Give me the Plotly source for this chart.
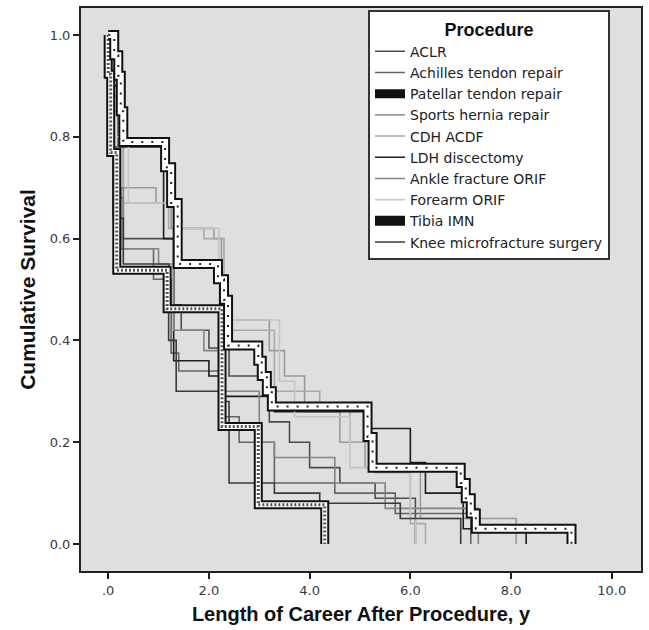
import plotly.graph_objects as go

# ---------------- data (Kaplan-Meier step points: time, survival after event) ----------------
procedures = ["ACLR", "Achilles tendon repair", "Patellar tendon repair", "Sports hernia repair",
              "CDH ACDF", "LDH discectomy", "Ankle fracture ORIF", "Forearm ORIF", "Tibia IMN",
              "Knee microfracture surgery"]

aclr_t = [0, 0.05, 0.12, 0.2, 0.3, 1.3, 1.45, 2.0, 2.4, 3.2, 3.6, 4.0, 4.6, 5.3, 6.1]
aclr_s = [1.0, 0.9, 0.78, 0.68, 0.6, 0.47, 0.42, 0.385, 0.33, 0.24, 0.20, 0.15, 0.12, 0.09, 0.0]

achilles_t = [0, 0.03, 0.1, 0.25, 0.9, 1.25, 1.4, 2.3, 2.6, 3.3, 4.5, 5.7, 7.2]
achilles_s = [1.0, 0.85, 0.7, 0.58, 0.52, 0.375, 0.34, 0.25, 0.2, 0.12, 0.10, 0.06, 0.0]

patellar_t = [0, 0.0, 0.05, 0.17, 1.17, 2.26, 2.98, 4.3]
patellar_s = [1.0, 0.923, 0.769, 0.538, 0.462, 0.231, 0.077, 0.0]

hernia_t = [0, 0.05, 0.2, 0.3, 0.95, 1.25, 2.1, 2.25, 3.2, 3.5, 3.9, 4.6, 5.1, 6.2, 8.1]
hernia_s = [1.0, 0.9, 0.8, 0.70, 0.67, 0.62, 0.60, 0.44, 0.38, 0.33, 0.26, 0.2, 0.15, 0.05, 0.0]

cdh_t = [0, 0.1, 0.3, 1.2, 1.9, 2.3, 3.3, 4.2, 4.8, 5.3, 6.0, 6.3]
cdh_s = [1.0, 0.88, 0.67, 0.62, 0.60, 0.42, 0.30, 0.27, 0.2, 0.14, 0.04, 0.0]

ldh_t = [0, 0.02, 0.2, 1.1, 1.3, 2.0, 2.3, 3.3, 5.2, 6.0, 6.3, 7.05, 8.3]
ldh_s = [1.0, 0.9, 0.78, 0.60, 0.36, 0.33, 0.29, 0.26, 0.227, 0.16, 0.10, 0.03, 0.0]

ankle_t = [0, 0.05, 0.2, 0.3, 1.0, 1.3, 1.9, 2.3, 3.0, 3.3, 4.5, 5.5, 7.35]
ankle_s = [1.0, 0.85, 0.70, 0.58, 0.55, 0.42, 0.38, 0.30, 0.20, 0.17, 0.12, 0.07, 0.0]

forearm_t = [0, 0.1, 0.4, 1.3, 2.2, 3.4, 3.7, 4.8, 6.0, 6.1]
forearm_s = [1.0, 0.8, 0.67, 0.62, 0.44, 0.32, 0.25, 0.15, 0.05, 0.0]

tibia_t = [0, 0.12, 0.2, 0.25, 0.3, 1.13, 1.25, 1.38, 2.18, 2.3, 2.38, 2.98, 3.05, 3.15, 3.25,
           5.15, 5.25, 7.0, 7.1, 7.2, 7.3, 9.2]
tibia_s = [1.0, 0.96, 0.92, 0.85, 0.79, 0.74, 0.67, 0.55, 0.52, 0.48, 0.39, 0.36, 0.33, 0.30, 0.27,
           0.21, 0.15, 0.12, 0.09, 0.06, 0.03, 0.0]

knee_t = [0, 0.02, 0.1, 0.3, 1.2, 1.35, 2.2, 2.4, 3.3, 4.2, 5.8, 7.0]
knee_s = [1.0, 0.8, 0.64, 0.55, 0.40, 0.30, 0.28, 0.12, 0.10, 0.08, 0.05, 0.0]

x_tickvals = [0, 2, 4, 6, 8, 10]
x_ticktext = [".0", "2.0", "4.0", "6.0", "8.0", "10.0"]
y_tickvals = [0, 0.2, 0.4, 0.6, 0.8, 1.0]
y_ticktext = ["0.0", "0.2", "0.4", "0.6", "0.8", "1.0"]

thin = [
    ("ACLR", aclr_t, aclr_s, "#4d4d4d", 1),
    ("Achilles tendon repair", achilles_t, achilles_s, "#656565", 2),
    ("Sports hernia repair", hernia_t, hernia_s, "#9a9a9a", 4),
    ("CDH ACDF", cdh_t, cdh_s, "#a9a9a9", 5),
    ("LDH discectomy", ldh_t, ldh_s, "#1e1e1e", 6),
    ("Ankle fracture ORIF", ankle_t, ankle_s, "#858585", 7),
    ("Forearm ORIF", forearm_t, forearm_s, "#c6c6c6", 8),
    ("Knee microfracture surgery", knee_t, knee_s, "#3a3a3a", 10),
]

fig = go.Figure()
for name, t, s, col, rank in thin:
    fig.add_trace(go.Scatter(x=t, y=s, mode="lines", line=dict(color=col, width=1.6, shape="hv"),
                             name=name, legendrank=rank, hoverinfo="skip"))

# Patellar tendon repair: thick black outline with hatched fill
fig.add_trace(go.Scatter(x=patellar_t, y=patellar_s, mode="lines",
                         line=dict(color="#111111", width=9, shape="hv"),
                         name="Patellar tendon repair", legendrank=3, legendgroup="pat", hoverinfo="skip"))
fig.add_trace(go.Scatter(x=patellar_t, y=patellar_s, mode="lines",
                         line=dict(color="#ffffff", width=5, shape="hv"),
                         showlegend=False, legendgroup="pat", hoverinfo="skip"))
fig.add_trace(go.Scatter(x=patellar_t, y=patellar_s, mode="lines",
                         line=dict(color="#555555", width=3, shape="hv", dash="2px,2px"),
                         showlegend=False, legendgroup="pat", hoverinfo="skip"))

# Tibia IMN: thick white band with black border and dots
fig.add_trace(go.Scatter(x=tibia_t, y=tibia_s, mode="lines",
                         line=dict(color="#111111", width=10, shape="hv"),
                         name="Tibia IMN", legendrank=9, legendgroup="tib", hoverinfo="skip"))
fig.add_trace(go.Scatter(x=tibia_t, y=tibia_s, mode="lines",
                         line=dict(color="#ffffff", width=6, shape="hv"),
                         showlegend=False, legendgroup="tib", hoverinfo="skip"))
fig.add_trace(go.Scatter(x=tibia_t, y=tibia_s, mode="lines",
                         line=dict(color="#222222", width=2, shape="hv", dash="2px,8px"),
                         showlegend=False, legendgroup="tib", hoverinfo="skip"))

fig.update_layout(
    width=649, height=630,
    margin=dict(l=81, r=8, t=6, b=59),
    paper_bgcolor="#ffffff",
    plot_bgcolor="#dfdfdf",
    showlegend=True,
    legend=dict(
        x=0.5125, y=0.996, xanchor="left", yanchor="top",
        bgcolor="#ffffff", bordercolor="#333333", borderwidth=2,
        font=dict(family="DejaVu Sans", size=14, color="#222222"),
        title=dict(text="<b>Procedure</b>", side="top center",
                   font=dict(family="Liberation Sans, Arial", size=18, color="#111111")),
        itemwidth=30, tracegroupgap=0,
    ),
    xaxis=dict(
        range=[-0.54, 10.58], tickvals=x_tickvals, ticktext=x_ticktext,
        ticks="outside", ticklen=6, tickwidth=2, tickcolor="#222222",
        showgrid=False, zeroline=False, showline=True, linecolor="#222222", linewidth=2, mirror=True,
        tickfont=dict(family="DejaVu Sans", size=13, color="#3a3a3a"),
        title=dict(text="<b>Length of Career After Procedure, y</b>", standoff=10,
                   font=dict(family="Liberation Sans, Arial", size=20, color="#111111")),
    ),
    yaxis=dict(
        range=[-0.053, 1.053], tickvals=y_tickvals, ticktext=y_ticktext,
        ticks="outside", ticklen=6, tickwidth=2, tickcolor="#222222",
        showgrid=False, zeroline=False, showline=True, linecolor="#222222", linewidth=2, mirror=True,
        tickfont=dict(family="DejaVu Sans", size=13, color="#3a3a3a"),
        title=dict(text="<b>Cumulative Survival</b>", standoff=8,
                   font=dict(family="Liberation Sans, Arial", size=21, color="#111111")),
    ),
)

fig.write_html("out.html")
